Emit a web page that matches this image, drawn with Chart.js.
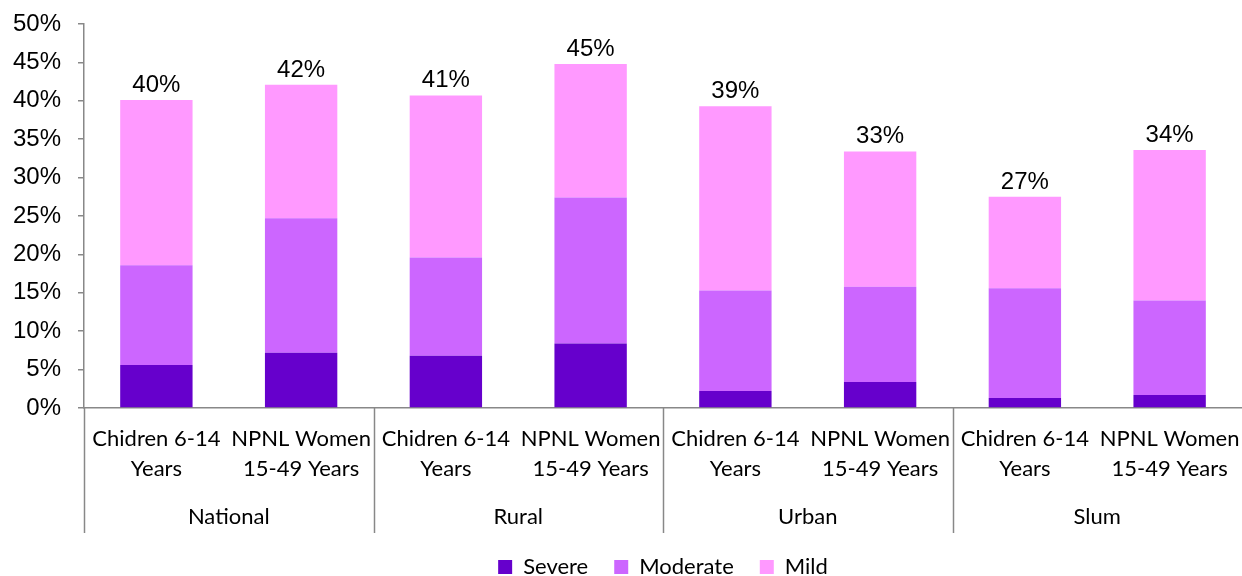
<!DOCTYPE html>
<html>
<head>
<meta charset="utf-8">
<script src="https://cdn.jsdelivr.net/npm/chart.js@4/dist/chart.umd.min.js"></script>
<style>
  html, body { margin: 0; padding: 0; background: #fff; }
  #wrap { width: 1242px; height: 576px; }
</style>
</head>
<body>
<div id="wrap"><canvas id="chart" width="1242" height="576"></canvas></div>
<script>
const categories = [
  ['Chidren 6-14', 'Years'], ['NPNL Women', '15-49 Years'],
  ['Chidren 6-14', 'Years'], ['NPNL Women', '15-49 Years'],
  ['Chidren 6-14', 'Years'], ['NPNL Women', '15-49 Years'],
  ['Chidren 6-14', 'Years'], ['NPNL Women', '15-49 Years']
];
const groups = ['National', 'Rural', 'Urban', 'Slum'];
const severe = [5.6, 7.2, 6.8, 8.4, 2.2, 3.4, 1.3, 1.7];
const moderate = [13.0, 17.5, 12.8, 19.0, 13.1, 12.4, 14.3, 12.3];
const mild = [21.5, 17.4, 21.1, 17.4, 24.0, 17.6, 11.9, 19.6];
const totals = [40, 42, 41, 45, 39, 33, 27, 34];

const axisColor = '#888888';
const catFont = { family: 'Lato', size: 22, lineHeight: 1.36 };
const groupFont = { family: 'Lato', size: 22, lineHeight: 1 };
const numFont = { family: 'Liberation Sans', size: 24 };

// totals above the stacks + separators between groups
const extras = {
  id: 'extras',
  afterDatasetsDraw(chart) {
    const ctx = chart.ctx;
    const top = chart.getDatasetMeta(2).data;
    ctx.save();
    ctx.fillStyle = '#000';
    ctx.font = numFont.size + 'px "' + numFont.family + '"';
    ctx.textAlign = 'center';
    ctx.textBaseline = 'alphabetic';
    top.forEach((bar, i) => {
      ctx.fillText(totals[i] + '%', bar.x, bar.y - 8);
    });

    const x = chart.scales.x;
    const x2 = chart.scales.x2;
    const half = (x.getPixelForValue(1) - x.getPixelForValue(0)) / 2;
    ctx.strokeStyle = axisColor;
    ctx.lineWidth = 1.5;
    for (let i = 0; i < categories.length; i += 2) {
      const px = Math.round(x.getPixelForValue(i) - half) + 0.5;
      ctx.beginPath();
      ctx.moveTo(px, x.top);
      ctx.lineTo(px, x2.top + 49);
      ctx.stroke();
    }
    ctx.restore();
  }
};

new Chart(document.getElementById('chart').getContext('2d'), {
  type: 'bar',
  data: {
    labels: categories,
    datasets: [
      { label: 'Severe', data: severe, backgroundColor: '#6600CC' },
      { label: 'Moderate', data: moderate, backgroundColor: '#CC66FF' },
      { label: 'Mild', data: mild, backgroundColor: '#FF99FF' }
    ]
  },
  options: {
    responsive: false,
    animation: false,
    layout: { padding: { left: 12, right: -2, top: 24, bottom: -12 } },
    datasets: { bar: { categoryPercentage: 1, barPercentage: 0.5 } },
    plugins: {
      legend: {
        position: 'bottom',
        fullSize: false,
        labels: {
          color: '#000',
          font: { family: 'Lato', size: 22 },
          boxWidth: 14,
          boxHeight: 14,
          padding: 26
        }
      },
      tooltip: { enabled: false }
    },
    scales: {
      x: {
        stacked: true,
        afterFit(scale) { scale.height = 76; scale.paddingLeft = 0; scale.paddingRight = 0; },
        grid: { display: false },
        border: { color: axisColor, width: 1.5 },
        ticks: { color: '#000', font: catFont, padding: 8, maxRotation: 0, autoSkip: false }
      },
      x2: {
        type: 'category',
        labels: groups,
        position: 'bottom',
        offset: true,
        afterFit(scale) { scale.height = 46; scale.paddingLeft = 0; scale.paddingRight = 0; },
        grid: { display: false },
        border: { display: false },
        ticks: { color: '#000', font: groupFont, padding: 14 }
      },
      y: {
        stacked: true,
        min: 0,
        max: 50,
        afterFit(scale) { scale.width = 72; scale.paddingTop = 0; },
        grid: { drawOnChartArea: false, tickLength: 6, color: axisColor, lineWidth: 1.5 },
        border: { color: axisColor, width: 1.5 },
        ticks: {
          stepSize: 5,
          color: '#000',
          font: numFont,
          padding: 17,
          callback: v => v + '%'
        }
      }
    }
  },
  plugins: [extras]
});
</script>
</body>
</html>
